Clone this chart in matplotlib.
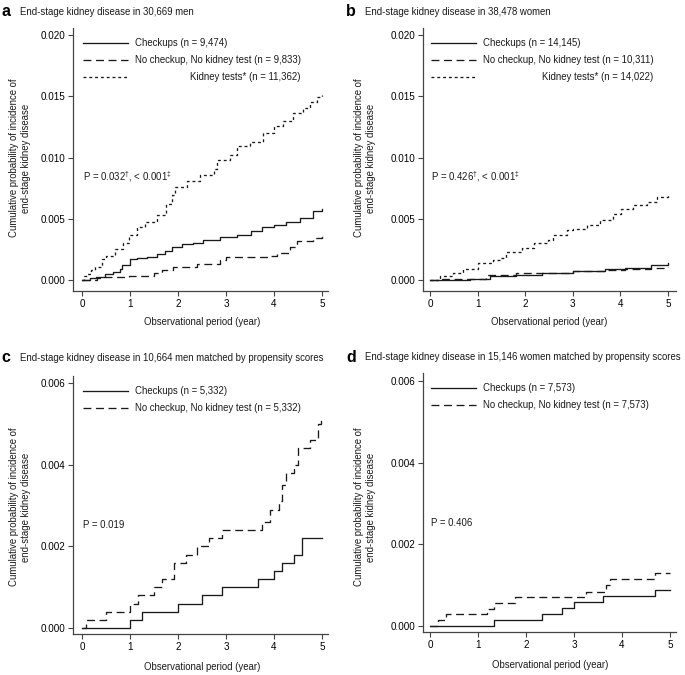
import matplotlib
matplotlib.use("Agg")
import matplotlib.pyplot as plt
import numpy as np

plt.rcParams['font.family'] = ['Liberation Sans', 'DejaVu Sans']
plt.rcParams['mathtext.fontset'] = 'custom'
plt.rcParams['mathtext.rm'] = 'Liberation Sans'

# ---- data ----
# panel a: men
a_t_chk = [0, 0.17, 0.3, 0.48, 0.65, 0.79, 0.83, 1.0, 1.14, 1.35, 1.56, 1.73, 1.87, 2.08, 2.32,
           2.53, 2.88, 3.22, 3.53, 3.74, 3.99, 4.26, 4.54, 4.82, 5.0]
a_chk = [0, 0.00016, 0.00027, 0.0005, 0.00063, 0.0009, 0.00126, 0.0017, 0.0018, 0.0019, 0.0021,
         0.0024, 0.0027, 0.0029, 0.003, 0.0033, 0.0035, 0.0037, 0.004, 0.0043, 0.0045, 0.0047,
         0.0051, 0.0056, 0.0058]
a_t_none = [0, 0.31, 0.44, 0.97, 1.49, 1.66, 1.9, 2.39, 2.88, 3.01, 3.92, 4.06, 4.33, 4.47, 4.82, 5.0]
a_none = [0, 0.00016, 0.00027, 0.00036, 0.00055, 0.0008, 0.0011, 0.0013, 0.0016, 0.0019, 0.002,
          0.0022, 0.0027, 0.0032, 0.0034, 0.0036]
a_t_kid = [0, 0.05, 0.1, 0.18, 0.27, 0.41, 0.51, 0.69, 0.86, 0.97, 1.14, 1.31, 1.56, 1.76, 1.87,
           1.94, 2.18, 2.46, 2.74, 2.81, 3.08, 3.22, 3.5, 3.78, 3.99, 4.19, 4.4, 4.6, 4.75, 4.89, 5.0]
a_kid = [0, 0.0003, 0.0005, 0.0008, 0.0011, 0.0017, 0.002, 0.0025, 0.003, 0.0037, 0.0043, 0.0047,
         0.0053, 0.0062, 0.0069, 0.0076, 0.0081, 0.0086, 0.0091, 0.0098, 0.0102, 0.0109, 0.0113,
         0.012, 0.0126, 0.013, 0.0136, 0.014, 0.0145, 0.0149, 0.0151]

# panel b: women
b_t_chk = [0, 0.83, 1.25, 1.8, 2.36, 3.0, 3.68, 4.1, 4.65, 5.0]
b_chk = [0, 0.0001, 0.0003, 0.0004, 0.00055, 0.00074, 0.00087, 0.00096, 0.0012, 0.0014]
b_t_none = [0, 0.21, 1.18, 1.8, 3.0, 3.68, 4.1, 4.65, 5.0]
b_none = [0, 0.0001, 0.0004, 0.0006, 0.0007, 0.0008, 0.0009, 0.001, 0.0011]
b_t_kid = [0, 0.21, 0.49, 0.7, 1.01, 1.32, 1.47, 1.6, 1.94, 2.19, 2.48, 2.59, 2.87, 3.0, 3.29,
           3.57, 3.85, 4.02, 4.27, 4.55, 4.76, 5.0]
b_kid = [0, 0.0003, 0.00055, 0.0009, 0.0014, 0.0016, 0.0018, 0.0023, 0.0026, 0.003, 0.0033,
         0.0037, 0.0041, 0.0042, 0.0045, 0.0049, 0.0054, 0.0058, 0.0061, 0.0064, 0.0068, 0.0071]

# panel c: matched men
c_t_chk = [0, 1.0, 1.24, 1.99, 2.5, 2.91, 3.66, 4.0, 4.17, 4.42, 4.59, 5.0]
c_chk = [0, 0.0002, 0.0004, 0.0006, 0.0008, 0.001, 0.0012, 0.0014, 0.0016, 0.0018, 0.0022, 0.0022]
c_t_none = [0, 0.08, 0.49, 1.0, 1.17, 1.49, 1.66, 1.92, 2.16, 2.4, 2.65, 2.92, 3.75, 3.91, 4.1,
            4.17, 4.26, 4.41, 4.5, 4.76, 4.91, 4.98]
c_none = [0, 0.0002, 0.0004, 0.0006, 0.0008, 0.001, 0.0012, 0.0016, 0.0018, 0.002, 0.0022, 0.0024,
          0.0026, 0.0029, 0.0031, 0.0035, 0.0038, 0.004, 0.0044, 0.0046, 0.005, 0.0051]

# panel d: matched women
d_t_chk = [0, 1.33, 2.34, 2.76, 3.0, 3.6, 4.69, 5.0]
d_chk = [0, 0.00015, 0.0003, 0.00044, 0.00059, 0.00073, 0.00087, 0.00087]
d_t_none = [0, 0.16, 0.33, 1.18, 1.33, 1.77, 3.26, 3.67, 3.75, 4.69, 5.0]
d_none = [0, 0.00015, 0.00029, 0.00042, 0.00057, 0.00071, 0.00084, 0.001, 0.00115, 0.0013, 0.0013]

titles = ["End-stage kidney disease in 30,669 men",
          "End-stage kidney disease in 38,478 women",
          "End-stage kidney disease in 10,664 men matched by propensity scores",
          "End-stage kidney disease in 15,146 women matched by propensity scores"]
letters = ["a", "b", "c", "d"]
legends = [["Checkups (n = 9,474)", "No checkup, No kidney test (n = 9,833)", "Kidney tests* (n = 11,362)"],
           ["Checkups (n = 14,145)", "No checkup, No kidney test (n = 10,311)", "Kidney tests* (n = 14,022)"],
           ["Checkups (n = 5,332)", "No checkup, No kidney test (n = 5,332)"],
           ["Checkups (n = 7,573)", "No checkup, No kidney test (n = 7,573)"]]
pvals = [r"P = 0.032$^{\dagger}$, < 0.001$^{\ddagger}$",
         r"P = 0.426$^{\dagger}$, < 0.001$^{\ddagger}$",
         "P = 0.019", "P = 0.406"]
yticks_top = [[0, 0.005, 0.010, 0.015, 0.020], [0, 0.005, 0.010, 0.015, 0.020],
              [0, 0.002, 0.004, 0.006], [0, 0.002, 0.004, 0.006]]

series = [
    [(a_t_chk, a_chk), (a_t_none, a_none), (a_t_kid, a_kid)],
    [(b_t_chk, b_chk), (b_t_none, b_none), (b_t_kid, b_kid)],
    [(c_t_chk, c_chk), (c_t_none, c_none)],
    [(d_t_chk, d_chk), (d_t_none, d_none)],
]

W, H = 685, 675
fig = plt.figure(figsize=(W / 100, H / 100), dpi=100)

# pixel layout: spines, x=0 / x=5 positions, y=0 / y=top positions
boxes = [
    dict(l=73, r=328, t=28, b=291, x0=82, x5=322, y0=280, yt=35, ymax=0.020),
    dict(l=423, r=676, t=28, b=291, x0=430, x5=668, y0=280, yt=35, ymax=0.020),
    dict(l=73, r=328, t=376, b=634, x0=82, x5=322, y0=628, yt=383, ymax=0.006),
    dict(l=423, r=676, t=373, b=632, x0=430, x5=670, y0=626, yt=381, ymax=0.006),
]
styles = [dict(ls='-'), dict(ls=(0, (6, 3.5))), dict(ls=(0, (2.2, 2.2)))]
col = '#1a1a1a'
fs = 6.95

for i, bx in enumerate(boxes):
    ax = fig.add_axes([bx['l'] / W, 1 - bx['b'] / H, (bx['r'] - bx['l']) / W, (bx['b'] - bx['t']) / H])
    pxx = (bx['x5'] - bx['x0']) / 5.0
    pxy = (bx['y0'] - bx['yt']) / bx['ymax']
    ax.set_xlim((bx['l'] - bx['x0']) / pxx, (bx['r'] - bx['x0']) / pxx)
    ax.set_ylim((bx['y0'] - bx['b']) / pxy, (bx['y0'] - bx['t']) / pxy)
    for spn in ['top', 'right']:
        ax.spines[spn].set_visible(False)
    for spn in ['left', 'bottom']:
        ax.spines[spn].set_color('#444444')
        ax.spines[spn].set_linewidth(0.9)
    ax.set_xticks([0, 1, 2, 3, 4, 5])
    ax.set_yticks(yticks_top[i])
    ax.set_yticklabels(["%.3f" % v for v in yticks_top[i]])
    ax.tick_params(labelsize=fs + 0.2, length=3.5, width=0.8, color='#444444', pad=2)
    ax.patch.set_alpha(0)

    for k, (t, v) in enumerate(series[i]):
        ax.step(t, v, where='post', color=col, lw=0.95, **styles[k])

    # legend drawn by hand (3rd label is right-aligned in the original)
    tr = ax.transAxes
    def ax_x(px):
        return (px - bx['l']) / (bx['r'] - bx['l'])
    def ax_y(py):
        return (bx['b'] - py) / (bx['b'] - bx['t'])
    x_line0 = bx['x0'] + 1
    x_line1 = bx['x0'] + 46
    x_txt = bx['x0'] + 53
    rows = [43, 60, 77] if i < 2 else [bx['t'] + 15, bx['t'] + 32]
    for k, lab in enumerate(legends[i]):
        ax.plot([ax_x(x_line0), ax_x(x_line1)], [ax_y(rows[k])] * 2, transform=tr,
                color=col, lw=0.95, **styles[k])
        if k < 2:
            tx = ax.text(ax_x(x_txt), ax_y(rows[k]), lab, transform=tr, fontsize=fs,
                         va='center', ha='left', color=col)
        else:
            fig.canvas.draw()
            bb = prev.get_window_extent()
            xr = ax.transAxes.inverted().transform((bb.x1, bb.y0))[0]
            ax.text(xr, ax_y(rows[k]), lab, transform=tr, fontsize=fs,
                    va='center', ha='right', color=col)
        prev = tx

    ptop = [177, 177, 525, 523][i]
    ax.text(ax_x(bx['x0'] + 1), ax_y(ptop), pvals[i], transform=tr, fontsize=fs,
            va='center', ha='left', color=col)

    # axis labels
    lab_y = [322, 322, 667, 665][i]
    fig.text((bx['x0'] + bx['x5']) / 2 / W, 1 - lab_y / H, "Observational period (year)",
             fontsize=fs, ha='center', va='center', color=col)
    lab_x = [20, 365, 20, 365][i]
    lab_yc = [158, 158, 507, 507][i]
    fig.text(lab_x / W, 1 - lab_yc / H,
             "Cumulative probability of incidence of\nend-stage kidney disease",
             fontsize=fs, rotation=90, ha='center', va='center', color=col,
             multialignment='center', linespacing=1.3)

    # panel letter and title
    let_x = [1, 346, 1, 346][i]
    tit_y = [12, 12, 358, 357][i]
    fig.text(let_x / W, 1 - tit_y / H, letters[i], fontsize=11.5, fontweight='bold',
             ha='left', va='center', color='black')
    fig.text((let_x + 19) / W, 1 - tit_y / H, titles[i], fontsize=fs,
             ha='left', va='center', color=col)

fig.savefig("out.png", dpi=100)
